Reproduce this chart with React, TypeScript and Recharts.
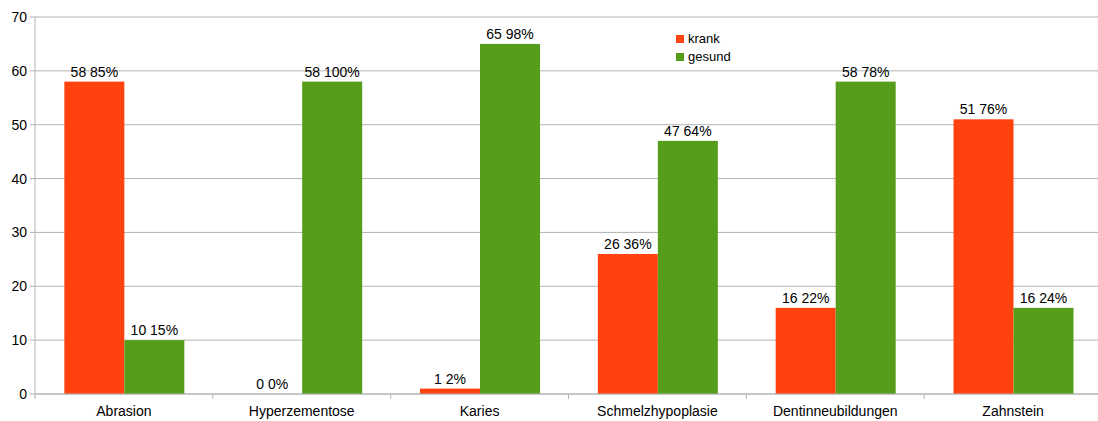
import React from "react";
import { BarChart, Bar, XAxis, YAxis, CartesianGrid } from "recharts";

const categories = ["Abrasion", "Hyperzementose", "Karies", "Schmelzhypoplasie", "Dentinneubildungen", "Zahnstein"];
const krank = [58, 0, 1, 26, 16, 51];
const krankPct = [85, 0, 2, 36, 22, 76];
const gesund = [10, 58, 65, 47, 58, 16];
const gesundPct = [15, 100, 98, 64, 78, 24];
const yTicks = [0, 10, 20, 30, 40, 50, 60, 70];
const seriesNames = ["krank", "gesund"];

const data = categories.map((c, i) => ({
  name: c,
  krank: krank[i],
  gesund: gesund[i],
  krankLabel: `${krank[i]} ${krankPct[i]}%`,
  gesundLabel: `${gesund[i]} ${gesundPct[i]}%`,
}));

const W = 1098;
const H = 421;
const M = { top: 17, right: -4, left: 0, bottom: 0 };
const YW = 35;
const XH = 27;
const FONT = "'Liberation Sans', Arial, sans-serif";
const RED = "#ff420e";
const GREEN = "#579d1c";
const GRID = "#b3b3b3";
const COLORS = [RED, GREEN];
const step = (W - M.left - M.right - YW) / categories.length;

const XTick = (props: any) => {
  const { x, y, payload } = props;
  const bx = x - step / 2;
  return (
    <g>
      <line x1={bx} y1={y - 8} x2={bx} y2={y - 3} stroke={GRID} />
      <text x={x} y={y + 14} textAnchor="middle" fill="#000" fontSize={14} fontFamily={FONT}>
        {payload.value}
      </text>
    </g>
  );
};

const makeShape = (labelKey: string) => (props: any) => {
  const { x, y, width, height, fill, payload } = props;
  return (
    <g>
      {height > 0 && <rect x={x} y={y} width={width} height={height} fill={fill} />}
      <text x={x + width / 2} y={y - 5} textAnchor="middle" fill="#000" fontSize={14} fontFamily={FONT}>
        {payload[labelKey]}
      </text>
    </g>
  );
};

export default function App() {
  return (
    <div style={{ position: "absolute", left: 0, top: 0, width: W, height: H, background: "#fff", overflow: "hidden" }}>
      <BarChart width={W} height={H} data={data} margin={M} barCategoryGap="16.5%" barGap={0}>
        <CartesianGrid vertical={false} stroke={GRID} />
        <XAxis
          dataKey="name"
          height={XH}
          axisLine={{ stroke: GRID }}
          tickLine={false}
          tick={<XTick />}
          interval={0}
        />
        <YAxis
          width={YW}
          domain={[0, 70]}
          ticks={yTicks}
          axisLine={{ stroke: GRID }}
          tickLine={{ stroke: GRID }}
          tickSize={5}
          tick={{ fill: "#000", fontSize: 14, fontFamily: FONT }}
          tickMargin={3}
        />
        <Bar dataKey="krank" fill={RED} isAnimationActive={false} shape={makeShape("krankLabel")} />
        <Bar dataKey="gesund" fill={GREEN} isAnimationActive={false} shape={makeShape("gesundLabel")} />
      </BarChart>
      <div style={{ position: "absolute", left: 676, top: 30, fontFamily: FONT, fontSize: 13, color: "#000", lineHeight: "18px" }}>
        {seriesNames.map((n, i) => (
          <div key={n} style={{ display: "flex", alignItems: "center" }}>
            <span style={{ display: "inline-block", width: 8, height: 8, background: COLORS[i], marginRight: 4 }} />
            <span>{n}</span>
          </div>
        ))}
      </div>
    </div>
  );
}
